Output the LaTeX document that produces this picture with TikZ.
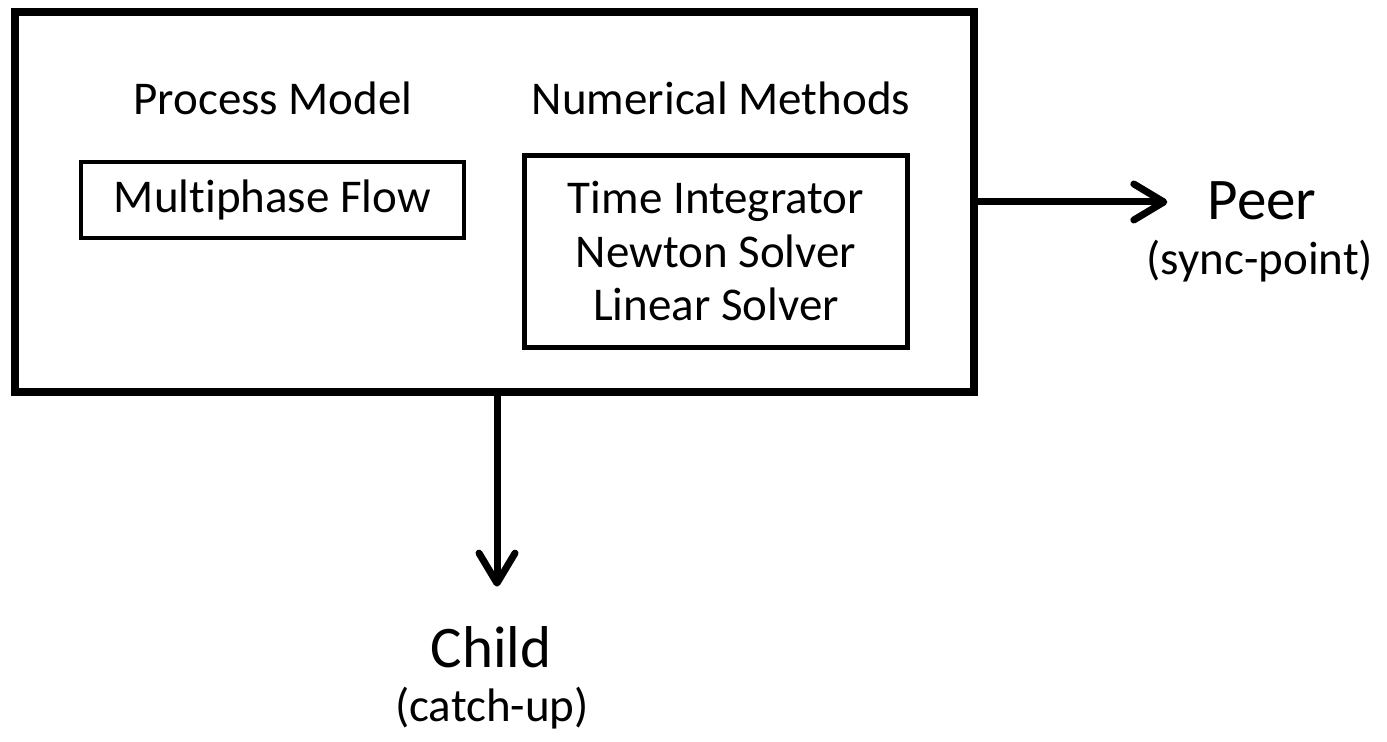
\documentclass[tikz,border=0pt]{standalone}
\usepackage{fontspec}
\setmainfont{Carlito}[Ligatures=NoCommon]
\usetikzlibrary{arrows.meta}

\begin{document}
\begin{tikzpicture}[x=0.5pt,y=-0.5pt,
	headline/.style={inner sep=0pt,anchor=base,font=\fontsize{23.5}{28}\selectfont},
	boxed/.style={draw,line width=2.2pt,inner sep=0pt,align=center,font=\fontsize{23.5}{26.75}\selectfont},
	target/.style={inner sep=0pt,anchor=base,font=\fontsize{29.5}{34}\selectfont},
	note/.style={inner sep=0pt,anchor=base,font=\fontsize{23.5}{28}\selectfont},
	flow/.style={line width=3.5pt,-{Straight Barb[length=15pt,width=18pt,line cap=round,line join=round]}}]
	\useasboundingbox (0,0) rectangle (1387,742);
	\node[draw,line width=4pt,minimum width=479.5pt,minimum height=190pt] (frame) at (494.5,202) {};
	\node[headline] (procmodel) at (273,115) {Process Model};
	\node[headline] (nummethods) at (721,115) {Numerical Methods};
	\node[boxed,minimum width=191.5pt,minimum height=38pt] (multiphase) at (272.5,200) {Multiphase Flow};
	\node[boxed,minimum width=191.5pt,minimum height=96pt] (solvers) at (716,251.5)
	{
		Time Integrator\\
		Newton Solver\\
		Linear Solver
	};
	\node[target] (peer) at (1262,220) {Peer};
	\node[note] (syncpoint) at (1260,275) {(sync-point)};
	\node[target] (child) at (491,668) {Child};
	\node[note] (catchup) at (492,721) {(catch-up)};
	\draw[flow,shorten >=20pt] (frame.east) -- (frame.east -| peer.west);
	\draw[flow,shorten >=20pt] ([xshift=1.25pt]frame.south) -- ([xshift=1.25pt]frame.south |- child.north);
\end{tikzpicture}
\end{document}
